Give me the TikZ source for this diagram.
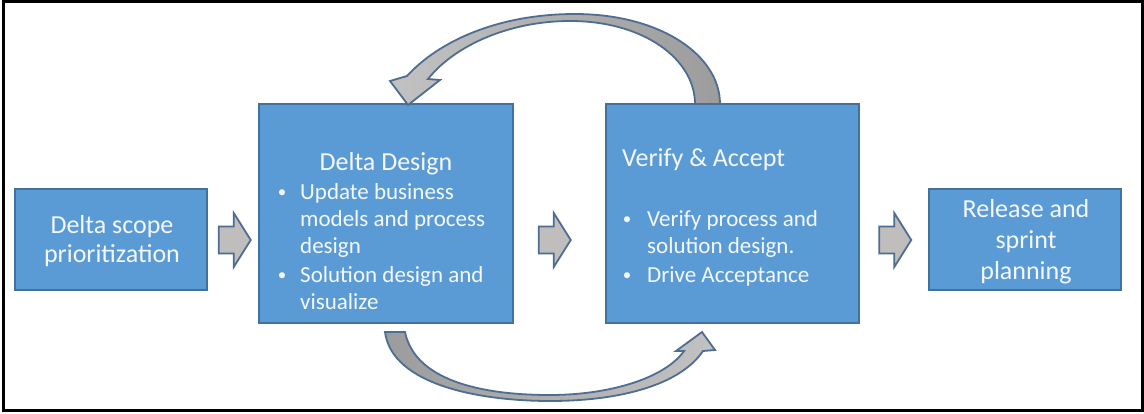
\documentclass[tikz,border=0pt]{standalone}
\usepackage{fontspec}
\setmainfont{Carlito}
\usetikzlibrary{calc}
\definecolor{boxfill}{HTML}{5B9BD5}
\definecolor{boxline}{HTML}{41719C}
\definecolor{arrline}{HTML}{4E6D93}
\definecolor{arrfill}{HTML}{C0BDBD}
\definecolor{curvedark}{HTML}{9C9C9C}
\definecolor{curvelight}{HTML}{C2C2C2}
\definecolor{txt}{HTML}{F4F8FC}
\begin{document}
\begin{tikzpicture}[x=1pt,y=-1pt,
  box/.style={draw=boxline, fill=boxfill, line width=1.5pt, inner sep=0pt},
  lbig/.style={text=txt, font=\fontsize{26}{29}\selectfont, inner sep=0pt, anchor=base},
  lsm/.style={text=txt, font=\fontsize{23}{27}\selectfont, inner sep=0pt, anchor=base west},
  bul/.style={text=txt, font=\fontsize{17}{20}\selectfont, inner sep=0pt, anchor=base},
  barrow/.style={draw=arrline, fill=arrfill, line width=1.8pt, line join=miter},
  carrow/.style={draw=arrline, line width=1.8pt, line join=miter},
  pics/blockarr/.style={code={
    \draw[barrow] (-16,-13.5) -- (-1,-13.5) -- (-1,-27) -- (16,0) -- (-1,27) -- (-1,13.5) -- (-16,13.5) -- cycle;}}
]
\useasboundingbox (0,0) rectangle (1144,413);
\fill[white] (0,0) rectangle (1144,413);
\draw[line width=3pt] (3.5,1.5) rectangle (1142,410.5);

% boxes
\node[box, minimum width=192pt, minimum height=101pt] (b1) at (111,239.5) {};
\node[box, minimum width=254pt, minimum height=219pt] (b2) at (386,213.5) {};
\node[box, minimum width=253pt, minimum height=219pt] (b3) at (732.5,213.5) {};
\node[box, minimum width=192pt, minimum height=101pt] (b4) at (1025,239.5) {};

% box 1 text
\node[lbig] (t1a) at (112,233) {Delta scope};
\node[lbig] (t1b) at (112,262) {prioritization};

% box 2 text
\node[lbig] (t2h) at (386,170) {Delta Design};
\node[bul] (t2u1) at (282,197) {\textbullet};
\node[lsm] (t2a) at (300,199) {Update business};
\node[lsm] (t2b) at (300,226) {models and process};
\node[lsm] (t2c) at (300,253) {design};
\node[bul] (t2u2) at (282,280) {\textbullet};
\node[lsm] (t2d) at (300,282) {Solution design and};
\node[lsm] (t2e) at (300,309) {visualize};

% box 3 text
\node[lbig, anchor=base west] (t3h) at (622,166) {Verify \& Accept};
\node[bul] (t3u1) at (627,224) {\textbullet};
\node[lsm] (t3a) at (647,226) {Verify process and};
\node[lsm] (t3b) at (647,253) {solution design.};
\node[bul] (t3u2) at (627,280) {\textbullet};
\node[lsm] (t3c) at (647,282) {Drive Acceptance};

% box 4 text
\node[lbig] (t4a) at (1026,217) {Release and};
\node[lbig] (t4b) at (1026,248) {sprint};
\node[lbig] (t4c) at (1026,279) {planning};

% block arrows between boxes
\pic at ($(b1.east)+(27,0.5)$) {blockarr};
\pic at ($(b2.east)+(41,26.5)$) {blockarr};
\pic at ($(b3.east)+(35.5,26.5)$) {blockarr};

% top curved arrow (from Verify back to Delta Design)
\draw[carrow, left color=curvelight, right color=curvedark]
  (720,104) .. controls (720,55) and (660,14) .. (575,14)
  .. controls (500,14) and (440,40) .. (407,76)
  -- (390,81) -- (408,105) -- (440,80) -- (428,79)
  .. controls (455,45) and (510,21) .. (570,21)
  .. controls (645,21) and (695,60) .. (695,104) -- cycle;

% bottom curved arrow (from Delta Design to Verify)
\draw[carrow, left color=curvedark, right color=curvelight]
  (385,332) .. controls (392,385) and (480,401) .. (550,401)
  .. controls (620,401) and (680,385) .. (703,351)
  -- (715,350) -- (702,332) -- (676,351) -- (684,351)
  .. controls (665,378) and (610,395) .. (550,395)
  .. controls (480,395) and (415,380) .. (405,332) -- cycle;
\end{tikzpicture}
\end{document}
